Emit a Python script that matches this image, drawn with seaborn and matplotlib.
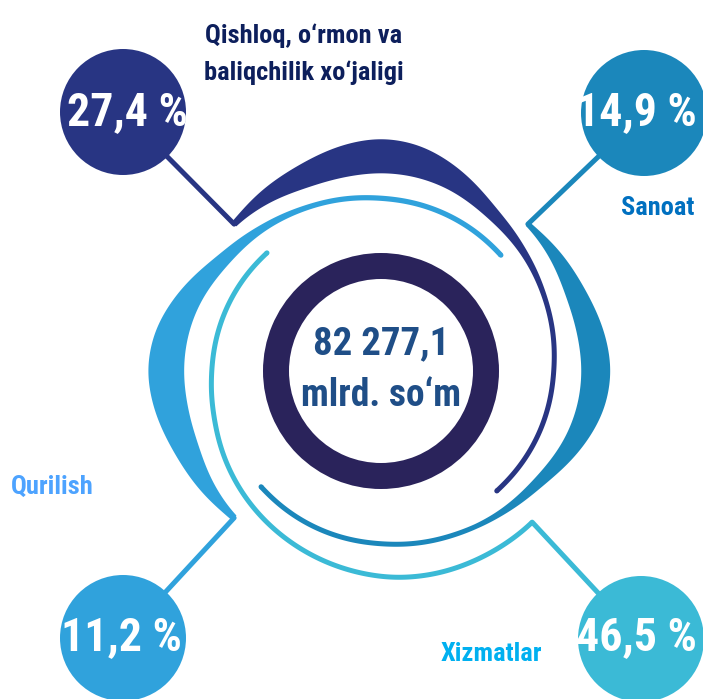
import numpy as np
import pandas as pd
import matplotlib.pyplot as plt
import matplotlib.patches as mpatches
from matplotlib import font_manager as fm
import seaborn as sns

# ma'lumotlar
sectors = ["Qishloq, o‘rmon va\nbaliqchilik xo‘jaligi", "Sanoat", "Qurilish", "Xizmatlar"]
shares = [27.4, 14.9, 11.2, 46.5]
total = 82277.1
total_unit = "mlrd. so‘m"

badge_colors = ["#283583", "#1B87BB", "#30A2DC", "#3BBAD6"]
label_colors = ["#0D1F5C", "#0070C0", "#4DA3FF", "#00B0F0"]
ring_color = "#2A235B"
total_color = "#1F4E87"

# joylashuv (piksel)
CX, CY = 381, 371
badge_xy = [(123, 112), (644, 113), (123, 638), (641, 639)]
badge_r = 63
badge_text_xy = [(127, 112), (636, 112), (121, 637), (636, 637)]
label_xy = [(304, 54), (658, 208), (52, 487), (491, 654)]
tip_angle = [135, 45, 225, 315]
bulge = [1.0, 0.85, 1.05, 0.0]

# spiral shakli: burchak (uchidan), tashqi va ichki radius
prof_t = [0, 11, 23, 35, 45, 55, 65, 80, 95, 110, 135, 181]
prof_out = [210, 216, 221, 229, 233, 229, 218, 199, 189, 182, 175, 169]
prof_in = [205, 202, 197, 197, 198, 197, 194, 186, 182, 177, 170, 164]
thin_t = [0, 29, 41, 60, 90, 119, 135, 181]
thin_r = [214, 210, 207, 199, 186, 173, 169, 164]


def pick_font():
    fams = ["Liberation Sans Narrow", "Roboto Condensed", "Noto Sans", "DejaVu Sans",
            "Open Sans", "Roboto"]
    rank = {"ultra-condensed": 0, "extra-condensed": 1, "condensed": 2, "semi-condensed": 3}
    cands = []
    for f in fm.fontManager.ttflist:
        if f.name not in fams or f.style != "normal":
            continue
        st = str(f.stretch)
        if f.name in ("Liberation Sans Narrow", "Roboto Condensed") and st not in rank:
            st = "condensed"
        if st not in rank:
            continue
        w = f.weight if isinstance(f.weight, int) else {"bold": 700}.get(f.weight, 400)
        if w < 600:
            continue
        cands.append((rank[st], fams.index(f.name), abs(w - 700), f.fname))
    if cands:
        return fm.FontProperties(fname=sorted(cands)[0][3])
    return fm.FontProperties(family="DejaVu Sans", weight="bold")


def font(size):
    p = FONT.copy()
    p.set_size(size)
    return p


def smooth(t, tp, rp, sigma=4.0):
    r = np.interp(t, tp, rp)
    step = t[1] - t[0]
    n = int(3 * sigma / step)
    k = np.arange(-n, n + 1) * step
    kern = np.exp(-0.5 * (k / sigma) ** 2)
    kern /= kern.sum()
    pad = np.concatenate([np.full(n, r[0]), r, np.full(n, r[-1])])
    return np.convolve(pad, kern, mode="valid")


def polar(a_deg, r):
    a = np.radians(a_deg)
    return CX + r * np.cos(a), CY - r * np.sin(a)


sns.set_theme(style="white")
FONT = pick_font()

fig = plt.figure(figsize=(7.03, 6.99), dpi=100)
ax = fig.add_axes([0, 0, 1, 1])

t = np.linspace(0, 181, 600)
r_out = smooth(t, prof_t, prof_out)
r_in = smooth(t, prof_t, prof_in)
mid = (r_out + r_in) / 2
half = (r_out - r_in) / 2
mid_thin = smooth(t, thin_t, thin_r)

for i in range(4):
    if bulge[i] > 0:
        m, h = mid, np.maximum(half * bulge[i], 2.5)
    else:
        m, h = mid_thin, np.full_like(t, 2.5)
    a = tip_angle[i] - t
    xo, yo = polar(a, m + h)
    xi, yi = polar(a, m - h)
    ax.fill(np.r_[xo, xi[::-1]], np.r_[yo, yi[::-1]], color=badge_colors[i], lw=0, zorder=2)
    ax.add_patch(mpatches.Circle(polar(a[-1], m[-1]), 2.5, color=badge_colors[i], lw=0, zorder=2))
    # ulovchi chiziq
    tx, ty = polar(tip_angle[i], m[0])
    ax.plot([tx, badge_xy[i][0]], [ty, badge_xy[i][1]], color=badge_colors[i], lw=3.6,
            solid_capstyle="round", zorder=2)

# markaziy halqa
ax.add_patch(mpatches.Wedge((CX, CY), 118, 0, 360, width=26, color=ring_color, lw=0, zorder=2))

# foizli doiralar
badges = pd.DataFrame({
    "sector": sectors,
    "x": [p[0] for p in badge_xy],
    "y": [p[1] for p in badge_xy],
})
size = (2 * badge_r * 72 / fig.dpi) ** 2
sns.scatterplot(data=badges, x="x", y="y", hue="sector", palette=badge_colors, s=size,
                linewidth=0, legend=False, ax=ax, zorder=3)

for i, v in enumerate(shares):
    txt = f"{v:.1f}".replace(".", ",") + " %"
    ax.text(*badge_text_xy[i], txt, color="white", ha="center", va="center",
            fontproperties=font(33), zorder=4)
    ax.text(*label_xy[i], sectors[i], color=label_colors[i], ha="center", va="center",
            fontproperties=font(19), linespacing=1.6, zorder=4)

total_txt = f"{total:,.1f}".replace(",", " ").replace(".", ",")
ax.text(CX, 344, total_txt, color=total_color, ha="center", va="center",
        fontproperties=font(28), zorder=4)
ax.text(CX, 396, total_unit, color=total_color, ha="center", va="center",
        fontproperties=font(27), zorder=4)

ax.set_xlim(0, 703)
ax.set_ylim(699, 0)
ax.axis("off")

plt.savefig("out.png", dpi=100)
